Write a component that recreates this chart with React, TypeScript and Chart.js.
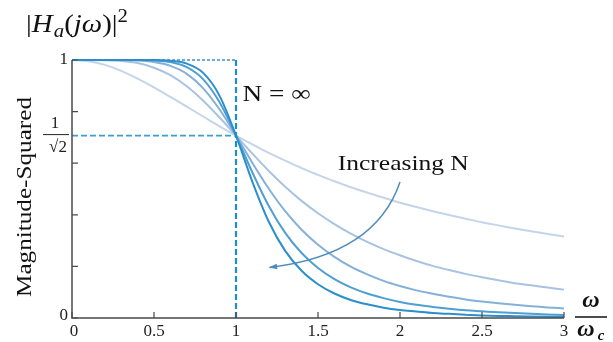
import { useEffect, useRef } from "react";
import { Chart, registerables } from "chart.js";

Chart.register(...registerables);

// normalized frequency ω/ωc
const omega = [0, 0.1, 0.2, 0.3, 0.4, 0.5, 0.6, 0.7, 0.8, 0.9, 1.0, 1.1, 1.2, 1.3, 1.4, 1.5, 1.6, 1.7, 1.8, 1.9, 2.0, 2.1, 2.2, 2.3, 2.4, 2.5, 2.6, 2.7, 2.8, 2.9, 3.0];

// magnitude, one curve per order N
const magN1 = [1, 0.995, 0.981, 0.958, 0.928, 0.894, 0.857, 0.819, 0.781, 0.743, 0.707, 0.673, 0.640, 0.610, 0.581, 0.555, 0.530, 0.507, 0.486, 0.466, 0.447, 0.430, 0.414, 0.399, 0.385, 0.371, 0.359, 0.347, 0.336, 0.326, 0.316];
const magN2 = [1, 1, 0.999, 0.996, 0.988, 0.970, 0.941, 0.898, 0.842, 0.777, 0.707, 0.637, 0.570, 0.509, 0.454, 0.406, 0.364, 0.327, 0.295, 0.267, 0.243, 0.221, 0.202, 0.186, 0.171, 0.158, 0.146, 0.135, 0.127, 0.118, 0.110];
const magN3 = [1, 1, 1, 1, 0.998, 0.992, 0.977, 0.946, 0.890, 0.808, 0.707, 0.601, 0.501, 0.414, 0.342, 0.284, 0.237, 0.199, 0.169, 0.144, 0.124, 0.107, 0.094, 0.082, 0.072, 0.064, 0.057, 0.051, 0.046, 0.041, 0.037];
const magN4 = [1, 1, 1, 1, 1, 0.998, 0.992, 0.972, 0.925, 0.836, 0.707, 0.564, 0.434, 0.330, 0.252, 0.194, 0.151, 0.119, 0.095, 0.077, 0.062, 0.051, 0.043, 0.036, 0.030, 0.026, 0.022, 0.019, 0.016, 0.014, 0.012];
const magN5 = [1, 1, 1, 1, 1, 1, 0.997, 0.986, 0.950, 0.861, 0.707, 0.528, 0.373, 0.260, 0.183, 0.131, 0.095, 0.070, 0.053, 0.040, 0.031, 0.025, 0.019, 0.016, 0.013, 0.010, 0.008, 0.007, 0.006, 0.005, 0.004];

const seriesList = [magN1, magN2, magN3, magN4, magN5];
const seriesColors = ["#c4d5e9", "#a8c3e1", "#84b1d9", "#4f9fd3", "#2c8fcc"];

// ideal filter (N = ∞) and reference levels
const cutoff = 1;
const halfPowerLevel = 0.707;
const passLevel = 1;

// ticks
const xTicks = [0, 0.5, 1, 1.5, 2, 2.5, 3];
const xTickLabels = ["0", "0.5", "1", "1.5", "2", "2.5", "3"];
const yTicks = [0, 0.2, 0.4, 0.6, 0.8, 1];
const yLabelValues = [0, 1];
const yLabelTexts = ["0", "1"];

// annotation anchors (data coordinates)
const nInfLabelPos = { x: 1.04, y: 0.864 };
const increasingLabelPos = { x: 2.02, y: 0.595 };
const arrowStart = { x: 2.0, y: 0.527 };
const arrowCtrl = { x: 1.85, y: 0.245 };
const arrowEnd = { x: 1.205, y: 0.196 };

const SERIF = '"Liberation Serif", "DejaVu Serif", serif';

function fitText(ctx: CanvasRenderingContext2D, text: string, cx: number, cy: number, width: number, font: string, align: CanvasTextAlign = "center") {
  ctx.font = font;
  const w = ctx.measureText(text).width;
  ctx.save();
  ctx.translate(cx, cy);
  ctx.scale(width / w, 1);
  ctx.textAlign = align;
  ctx.textBaseline = "middle";
  ctx.fillText(text, 0, 0);
  ctx.restore();
}

const decorPlugin = {
  id: "decor",
  afterDatasetsDraw(chart: any) {
    const ctx: CanvasRenderingContext2D = chart.ctx;
    const xs = chart.scales.x;
    const ys = chart.scales.y;
    const X = (v: number) => xs.getPixelForValue(v);
    const Y = (v: number) => ys.getPixelForValue(v);
    const x0 = X(0);
    const y0 = Y(0);

    ctx.save();
    // axes
    ctx.strokeStyle = "#4a4a4a";
    ctx.lineWidth = 1.5;
    ctx.beginPath();
    ctx.moveTo(x0, Y(1));
    ctx.lineTo(x0, y0);
    ctx.lineTo(X(3), y0);
    ctx.stroke();

    // inward ticks
    ctx.lineWidth = 1.2;
    ctx.beginPath();
    yTicks.forEach((t) => {
      ctx.moveTo(x0, Y(t));
      ctx.lineTo(x0 + 6, Y(t));
    });
    xTicks.forEach((t) => {
      ctx.moveTo(X(t), y0);
      ctx.lineTo(X(t), y0 - 6);
    });
    ctx.stroke();

    // tick labels
    ctx.fillStyle = "#222";
    ctx.font = `17px ${SERIF}`;
    ctx.textAlign = "center";
    ctx.textBaseline = "middle";
    xTicks.forEach((t, i) => {
      ctx.fillText(xTickLabels[i], X(t) + (i === 0 ? 2 : 0), y0 + 14);
    });
    ctx.textAlign = "right";
    yLabelValues.forEach((v, i) => {
      ctx.fillText(yLabelTexts[i], x0 - 4, Y(v) - (v === 0 ? 2 : 0));
    });

    // 1/√2 label
    const fy = Y(halfPowerLevel);
    ctx.textAlign = "center";
    ctx.font = `17px ${SERIF}`;
    ctx.fillText("1", x0 - 17, fy - 12);
    ctx.fillText("√2", x0 - 14, fy + 12);
    ctx.strokeStyle = "#222";
    ctx.lineWidth = 1;
    ctx.beginPath();
    ctx.moveTo(x0 - 29, fy - 1);
    ctx.lineTo(x0 - 3, fy - 1);
    ctx.stroke();

    // y axis title
    ctx.fillStyle = "#111";
    ctx.save();
    ctx.translate(x0 - 47, (Y(1) + y0) / 2 + 8);
    ctx.rotate(-Math.PI / 2);
    fitText(ctx, "Magnitude-Squared", 0, 0, 200, `21px ${SERIF}`);
    ctx.restore();

    // top title |Ha(jω)|²
    {
      let cx = x0 - 46;
      const base = Y(1) - 28;
      ctx.textAlign = "left";
      ctx.textBaseline = "alphabetic";
      const parts: [string, string, number][] = [
        ["|", `25px ${SERIF}`, 0],
        ["H", `italic 25px ${SERIF}`, 0],
        ["a", `italic 18px ${SERIF}`, 5],
        ["(", `25px ${SERIF}`, 0],
        ["jω", `italic 25px ${SERIF}`, 0],
        [")|", `25px ${SERIF}`, 0],
        ["2", `18px ${SERIF}`, -10],
      ];
      let total = 0;
      parts.forEach(([t, f]) => {
        ctx.font = f;
        total += ctx.measureText(t).width + (t === "H" ? 1 : 0);
      });
      const sx = 102 / total;
      ctx.save();
      ctx.translate(cx, base);
      ctx.scale(sx, 1);
      cx = 0;
      parts.forEach(([t, f, dy]) => {
        ctx.font = f;
        ctx.fillText(t, cx, dy);
        cx += ctx.measureText(t).width + (t === "H" ? 1 : 0);
      });
      ctx.restore();
    }

    // x axis title ω / ωc
    {
      const cx = X(3) + 27;
      ctx.textAlign = "center";
      ctx.textBaseline = "middle";
      ctx.font = `bold italic 24px ${SERIF}`;
      ctx.fillText("ω", cx, y0 - 17);
      ctx.strokeStyle = "#111";
      ctx.lineWidth = 1.5;
      ctx.beginPath();
      ctx.moveTo(cx - 16, y0 - 1);
      ctx.lineTo(cx + 16, y0 - 1);
      ctx.stroke();
      ctx.font = `bold italic 24px ${SERIF}`;
      ctx.fillText("ω", cx - 5, y0 + 12);
      ctx.font = `bold italic 15px ${SERIF}`;
      ctx.fillText("c", cx + 10, y0 + 18);
    }

    // N = ∞
    ctx.fillStyle = "#111";
    fitText(ctx, "N = ∞", X(nInfLabelPos.x), Y(nInfLabelPos.y), 68, `23px ${SERIF}`, "left");

    // Increasing N
    fitText(ctx, "Increasing N", X(increasingLabelPos.x), Y(increasingLabelPos.y), 131, `22px ${SERIF}`);

    // curved arrow
    ctx.strokeStyle = "#4f8cbd";
    ctx.fillStyle = "#4f8cbd";
    ctx.lineWidth = 1.5;
    const sx = X(arrowStart.x), sy = Y(arrowStart.y);
    const qx = X(arrowCtrl.x), qy = Y(arrowCtrl.y);
    const ex = X(arrowEnd.x), ey = Y(arrowEnd.y);
    ctx.beginPath();
    ctx.moveTo(sx, sy);
    ctx.quadraticCurveTo(qx, qy, ex, ey);
    ctx.stroke();
    const ang = Math.atan2(ey - qy, ex - qx);
    ctx.beginPath();
    ctx.moveTo(ex - 1, ey);
    ctx.lineTo(ex + 8 * Math.cos(ang + Math.PI - 0.35), ey + 8 * Math.sin(ang + Math.PI - 0.35));
    ctx.lineTo(ex + 8 * Math.cos(ang + Math.PI + 0.35), ey + 8 * Math.sin(ang + Math.PI + 0.35));
    ctx.closePath();
    ctx.fill();

    ctx.restore();
  },
};

export default function App() {
  const ref = useRef<HTMLCanvasElement>(null);
  useEffect(() => {
    if (!ref.current) return;
    const curveSets = seriesList.map((vals, i) => ({
      label: `N=${i + 1}`,
      data: omega.map((w, k) => ({ x: w, y: vals[k] })),
      borderColor: seriesColors[i],
      borderWidth: 2,
      pointRadius: 0,
      cubicInterpolationMode: "monotone" as const,
      fill: false,
      clip: 6,
      order: 10 - i,
    }));
    const refSets = [
      {
        label: "half-power",
        data: [{ x: 0, y: halfPowerLevel }, { x: cutoff, y: halfPowerLevel }],
        borderColor: "#3a9fd0",
        borderWidth: 1.6,
        borderDash: [6, 3],
        pointRadius: 0,
        tension: 0,
        clip: 6,
        order: 20,
      },
      {
        label: "ideal-pass",
        data: [{ x: 0, y: passLevel }, { x: cutoff, y: passLevel }],
        borderColor: "#3f8fc2",
        borderWidth: 1.6,
        borderDash: [3, 2],
        pointRadius: 0,
        tension: 0,
        clip: 6,
        order: 20,
      },
      {
        label: "ideal-edge",
        data: [{ x: cutoff, y: passLevel }, { x: cutoff, y: 0 }],
        borderColor: "#1b8fc8",
        borderWidth: 2.2,
        borderDash: [6, 3],
        pointRadius: 0,
        tension: 0,
        clip: 6,
        order: 0,
      },
    ];
    const chart = new Chart(ref.current, {
      type: "line",
      data: { datasets: [...curveSets, ...refSets] as any },
      options: {
        responsive: false,
        animation: false,
        parsing: false as any,
        layout: { padding: { left: 72, right: 49, top: 60, bottom: 24 } },
        plugins: { legend: { display: false }, tooltip: { enabled: false } },
        scales: {
          x: { type: "linear", min: 0, max: 3, display: false },
          y: { type: "linear", min: 0, max: 1, display: false },
        },
      },
      plugins: [decorPlugin],
    });
    return () => chart.destroy();
  }, []);
  return (
    <div style={{ position: "fixed", left: 0, top: 0, width: 613, height: 342, background: "#fff" }}>
      <canvas ref={ref} width={613} height={342} style={{ width: 613, height: 342 }} />
    </div>
  );
}
